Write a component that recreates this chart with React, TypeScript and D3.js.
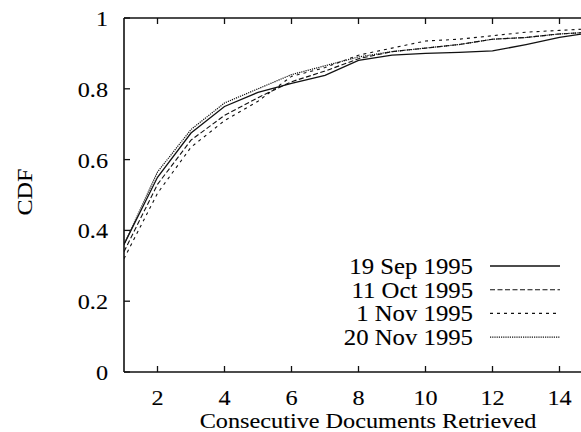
import React from "react";
import * as d3 from "d3";

const xValues = [1, 2, 3, 4, 5, 6, 7, 8, 9, 10, 11, 12, 13, 14, 15];
const sep19 = [0.36, 0.55, 0.675, 0.75, 0.79, 0.815, 0.838, 0.88, 0.895, 0.9, 0.903, 0.907, 0.925, 0.945, 0.96];
const oct11 = [0.34, 0.53, 0.655, 0.725, 0.775, 0.82, 0.85, 0.885, 0.905, 0.915, 0.925, 0.94, 0.945, 0.955, 0.96];
const nov1 = [0.32, 0.505, 0.635, 0.71, 0.765, 0.835, 0.86, 0.895, 0.915, 0.935, 0.94, 0.95, 0.96, 0.965, 0.97];
const nov20 = [0.36, 0.565, 0.685, 0.76, 0.80, 0.84, 0.865, 0.89, 0.905, 0.915, 0.925, 0.94, 0.945, 0.955, 0.96];

const seriesNames = ["19 Sep 1995", "11 Oct 1995", "1 Nov 1995", "20 Nov 1995"];
const seriesValues = [sep19, oct11, nov1, nov20];
const seriesDash = ["none", "5,2.5", "3,4", "1.2,1"];
const seriesWidth = [1.3, 1.1, 1.1, 1.2];

const xTicks = [2, 4, 6, 8, 10, 12, 14];
const yTicks = [0, 0.2, 0.4, 0.6, 0.8, 1];

const FONT = "'Liberation Serif', 'Times New Roman', serif";

export default function App() {
  const W = 581, H = 432;
  const left = 124, top = 18, bottom = 372;
  const x = d3.scaleLinear().domain([1, 15]).range([left, left + 14 * 33.5]);
  const y = d3.scaleLinear().domain([0, 1]).range([bottom, top]);
  const right = x(15);
  const line = d3.line<number>().x((_, i) => x(xValues[i])).y((d) => y(d));

  const T = (props: { x: number; y: number; anchor: string; size: number; sx?: number; children: any; rotate?: boolean }) => {
    const sx = props.sx ?? 1.1;
    return (
      <text
        transform={props.rotate ? `translate(${props.x},${props.y}) rotate(-90) scale(${sx},1)` : `translate(${props.x},${props.y}) scale(${sx},1)`}
        textAnchor={props.anchor}
        fontSize={props.size}
        fontFamily={FONT}
        fill="#000"
        stroke="#000"
        strokeWidth={0.1}
      >
        {props.children}
      </text>
    );
  };

  return (
    <svg width={W} height={H} style={{ position: "absolute", left: 0, top: 0, background: "#fff" }}>
      <rect x={0} y={0} width={W} height={H} fill="#fff" />
      <defs>
        <clipPath id="plot">
          <rect x={left} y={top} width={right - left} height={bottom - top} />
        </clipPath>
      </defs>
      <g stroke="#111" strokeWidth={1.6} fill="none">
        <line x1={left} y1={top} x2={right} y2={top} />
        <line x1={left} y1={bottom} x2={right} y2={bottom} />
        <line x1={left} y1={top} x2={left} y2={bottom} />
        <line x1={right} y1={top} x2={right} y2={bottom} />
      </g>
      <g stroke="#111" strokeWidth={1.3}>
        {xTicks.map((t) => (
          <g key={"xt" + t}>
            <line x1={x(t)} x2={x(t)} y1={bottom} y2={bottom - 6} />
            <line x1={x(t)} x2={x(t)} y1={top} y2={top + 6} />
          </g>
        ))}
        {yTicks.map((t) => (
          <line key={"yt" + t} x1={left} x2={left + 6} y1={y(t)} y2={y(t)} />
        ))}
      </g>
      {xTicks.map((t) => (
        <T key={"xl" + t} x={x(t)} y={405} anchor="middle" size={22}>{t}</T>
      ))}
      {yTicks.map((t) => (
        <T key={"yl" + t} x={108} y={y(t) + 8} anchor="end" size={22}>
          {t === 0 || t === 1 ? String(t) : t.toFixed(1)}
        </T>
      ))}
      <T x={368} y={428} anchor="middle" size={21} sx={1.155}>Consecutive Documents Retrieved</T>
      <T x={32} y={192} anchor="middle" size={22} rotate>CDF</T>
      <g clipPath="url(#plot)" fill="none">
        {seriesValues.map((vals, i) => (
          <path key={i} d={line(vals) || ""} stroke="#111" strokeWidth={seriesWidth[i]} strokeDasharray={seriesDash[i]} />
        ))}
      </g>
      {seriesNames.map((n, i) => {
        const by = 274 + i * 23.7;
        return (
          <g key={"lg" + i}>
            <T x={473} y={by} anchor="end" size={22.5}>{n}</T>
            <line x1={490} x2={560} y1={by - 8} y2={by - 8} stroke="#111" strokeWidth={seriesWidth[i]} strokeDasharray={seriesDash[i]} />
          </g>
        );
      })}
    </svg>
  );
}
